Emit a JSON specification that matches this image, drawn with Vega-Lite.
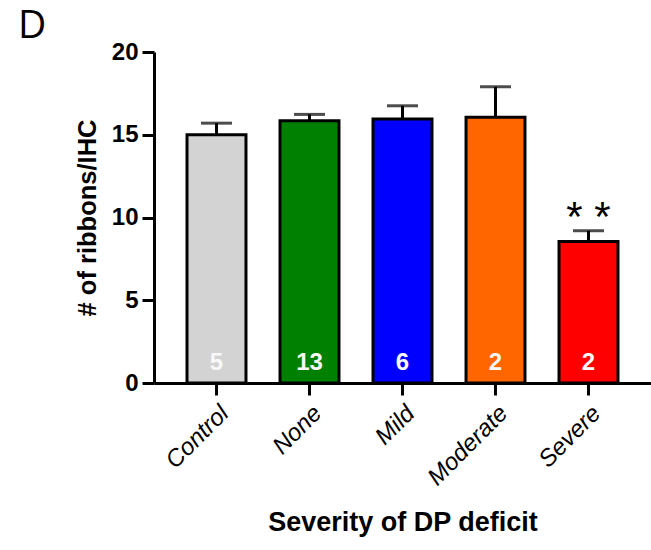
{
  "$schema": "https://vega.github.io/schema/vega-lite/v6.json",
  "autosize": "none",
  "width": 497,
  "height": 331,
  "padding": {"left": 154, "top": 52, "right": 0, "bottom": 167},
  "background": "white",
  "title": {
    "text": "D",
    "anchor": "start",
    "frame": "group",
    "dx": -136,
    "dy": 16,
    "offset": 10,
    "font": "Open Sans",
    "fontSize": 39,
    "fontWeight": "normal",
    "color": "black"
  },
  "data": {
    "values": [
      {"group": "Control", "mean": 15.0, "hi": 15.7, "n": "5", "sig": ""},
      {"group": "None", "mean": 15.85, "hi": 16.23, "n": "13", "sig": ""},
      {"group": "Mild", "mean": 15.95, "hi": 16.75, "n": "6", "sig": ""},
      {"group": "Moderate", "mean": 16.05, "hi": 17.9, "n": "2", "sig": ""},
      {"group": "Severe", "mean": 8.55, "hi": 9.2, "n": "2", "sig": "* *"}
    ]
  },
  "encoding": {
    "x": {
      "field": "group",
      "type": "nominal",
      "sort": ["Control", "None", "Mild", "Moderate", "Severe"],
      "scale": {"paddingInner": 0.366, "paddingOuter": 0.355},
      "axis": {
        "title": "Severity of DP deficit",
        "titleFont": "Liberation Sans",
        "titleFontSize": 27,
        "titleFontWeight": "bold",
        "titleColor": "black",
        "titlePadding": 20,
        "labelFont": "Liberation Sans",
        "labelFontSize": 24,
        "labelFontStyle": "italic",
        "labelColor": "black",
        "labelAngle": -45,
        "labelPadding": 6,
        "domainColor": "black",
        "domainWidth": 3,
        "tickColor": "black",
        "tickWidth": 3,
        "tickSize": 12
      }
    }
  },
  "layer": [
    {
      "mark": {"type": "rule", "color": "black", "strokeWidth": 3},
      "encoding": {
        "y": {
          "field": "mean",
          "type": "quantitative",
          "scale": {"domain": [0, 20], "nice": false},
          "axis": {
            "title": "# of ribbons/IHC",
            "titleFont": "Liberation Sans",
            "titleFontSize": 25.5,
            "titleFontWeight": "bold",
            "titleColor": "black",
            "titlePadding": 11,
            "values": [0, 5, 10, 15, 20],
            "grid": false,
            "labelFont": "Liberation Sans",
            "labelFontSize": 24,
            "labelFontWeight": "bold",
            "labelColor": "black",
            "labelPadding": 4,
            "domainColor": "black",
            "domainWidth": 3,
            "tickColor": "black",
            "tickWidth": 3,
            "tickSize": 12
          }
        },
        "y2": {"field": "hi"}
      }
    },
    {
      "mark": {"type": "tick", "color": "black", "thickness": 3, "size": 31, "orient": "horizontal"},
      "encoding": {"y": {"field": "hi", "type": "quantitative"}}
    },
    {
      "mark": {"type": "bar", "stroke": "black", "strokeWidth": 3},
      "encoding": {
        "y": {"field": "mean", "type": "quantitative"},
        "color": {
          "field": "group",
          "type": "nominal",
          "scale": {
            "domain": ["Control", "None", "Mild", "Moderate", "Severe"],
            "range": ["#d3d3d3", "#008000", "#0000ff", "#ff6600", "#ff0000"]
          },
          "legend": null
        }
      }
    },
    {
      "mark": {"type": "text", "color": "#f8f8f8", "font": "Liberation Sans", "fontSize": 24, "fontWeight": "bold", "baseline": "alphabetic", "dy": -13},
      "encoding": {
        "y": {"datum": 0, "type": "quantitative"},
        "text": {"field": "n"}
      }
    },
    {
      "mark": {"type": "text", "color": "black", "font": "Liberation Sans", "fontSize": 42, "baseline": "alphabetic", "dy": 0},
      "encoding": {
        "y": {"field": "hi", "type": "quantitative"},
        "text": {"field": "sig"}
      }
    }
  ],
  "config": {"view": {"stroke": null}}
}
